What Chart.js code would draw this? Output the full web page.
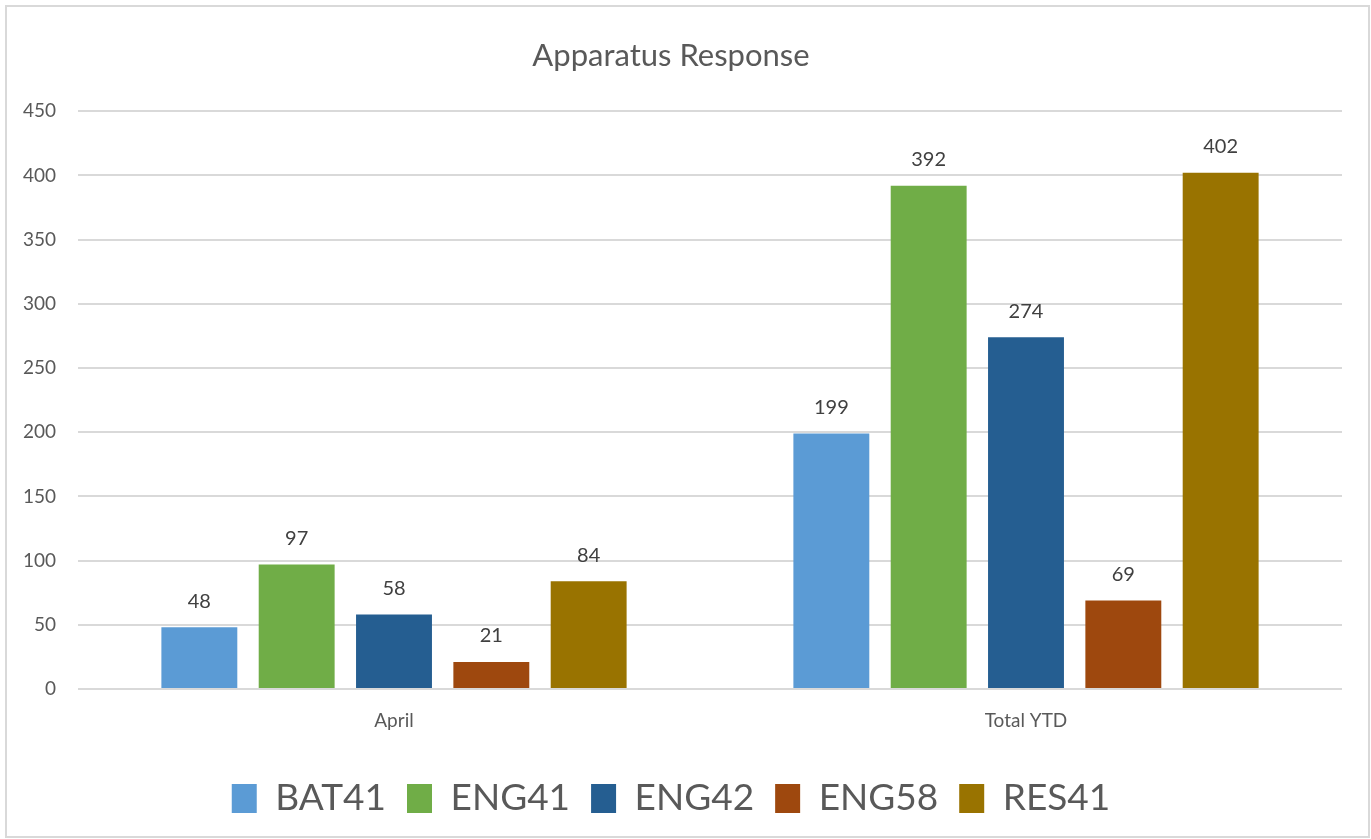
<!DOCTYPE html>
<html>
<head>
<meta charset="utf-8">
<script src="https://cdn.jsdelivr.net/npm/chart.js@4"></script>
<style>
    html, body { margin: 0; padding: 0; background: #ffffff; }
    #wrap { position: relative; width: 1371px; height: 839px; }
    #frame {
        position: absolute; left: 5px; top: 5px; width: 1361px; height: 829px;
        border: 2px solid #d9d9d9; pointer-events: none;
    }
    canvas { position: absolute; left: 0; top: 0; }
</style>
</head>
<body>
<div id="wrap">
    <canvas id="chart" width="1371" height="839"></canvas>
    <div id="frame"></div>
</div>
<script>
// Chart data
const categories = ['April', 'Total YTD'];
const seriesNames = ['BAT41', 'ENG41', 'ENG42', 'ENG58', 'RES41'];
const bat41 = [48, 199];
const eng41 = [97, 392];
const eng42 = [58, 274];
const eng58 = [21, 69];
const res41 = [84, 402];
const seriesColors = ['#5b9bd5', '#70ad47', '#255e91', '#9e480e', '#997300'];

const FONT = "Lato, 'Open Sans', sans-serif";

// draws the value above each bar
const barLabels = {
    id: 'barLabels',
    afterDatasetsDraw(chart) {
        const ctx = chart.ctx;
        ctx.save();
        ctx.font = `20px ${FONT}`;
        ctx.fillStyle = '#404040';
        ctx.textAlign = 'center';
        ctx.textBaseline = 'middle';
        chart.data.datasets.forEach((ds, i) => {
            chart.getDatasetMeta(i).data.forEach((bar, j) => {
                ctx.fillText(ds.data[j], bar.x, bar.y - 26);
            });
        });
        ctx.restore();
    }
};

const allSeries = [bat41, eng41, eng42, eng58, res41];

new Chart(document.getElementById('chart'), {
    type: 'bar',
    data: {
        labels: categories,
        datasets: seriesNames.map((name, i) => ({
            label: name,
            data: allSeries[i],
            backgroundColor: seriesColors[i],
            categoryPercentage: 0.77,
            barPercentage: 0.78
        }))
    },
    options: {
        responsive: false,
        animation: false,
        layout: { padding: { left: 0, right: 29, top: 0, bottom: 12 } },
        plugins: {
            title: {
                display: true,
                text: 'Apparatus Response',
                color: '#595959',
                font: { family: FONT, size: 31, weight: 'normal' },
                padding: { top: 37, bottom: 37 }
            },
            legend: {
                position: 'bottom',
                labels: {
                    color: '#595959',
                    font: { family: FONT, size: 37 },
                    boxWidth: 25,
                    boxHeight: 29,
                    padding: 21
                }
            },
            tooltip: { enabled: false }
        },
        scales: {
            x: {
                grid: { display: false },
                border: { display: false },
                ticks: { color: '#595959', font: { family: FONT, size: 19 }, padding: 12 },
                afterFit: s => { s.height = 70; }
            },
            y: {
                min: 0,
                max: 450,
                ticks: { stepSize: 50, color: '#595959', font: { family: FONT, size: 19 }, padding: 22 },
                grid: { color: '#d9d9d9', lineWidth: 2, drawTicks: false },
                border: { display: false },
                afterFit: s => { s.width = 78; }
            }
        }
    },
    plugins: [barLabels]
});
</script>
</body>
</html>
